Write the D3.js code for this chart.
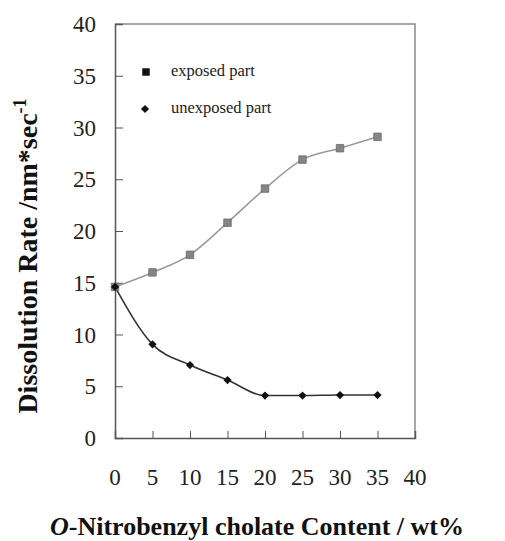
<!DOCTYPE html>
<html lang="en">
<head>
  <meta charset="UTF-8">
  <script src="https://d3js.org/d3.v7.min.js"></script>
  <title>Dissolution rate</title>
  <style>
    body { margin: 0; background: #fff; }
    text { font-family: "Liberation Serif", "Times New Roman", serif; }
  </style>
</head>
<body>
  <svg id="chart" width="505" height="541"></svg>
  <script>
    // data
    var contents = [0, 5, 10, 15, 20, 25, 30, 35];
    var exposedRate = [14.6, 16.0, 17.7, 20.8, 24.1, 26.9, 28.0, 29.1];
    var unexposedRate = [14.6, 9.05, 7.05, 5.6, 4.1, 4.1, 4.15, 4.15];
    var xTicks = [0, 5, 10, 15, 20, 25, 30, 35, 40];
    var yTicks = [0, 5, 10, 15, 20, 25, 30, 35, 40];
    var legendLabels = ["exposed part", "unexposed part"];

    var svg = d3.select("#chart");
    // plot box (window.top is reserved, so use other names)
    var plotL = 115, plotR = 415, plotT = 24, plotB = 438;

    var x = d3.scaleLinear().domain([0, 40]).range([plotL, plotR]);
    var y = d3.scaleLinear().domain([0, 40]).range([plotB, plotT]);

    // frame (top / right lighter)
    svg.append("path")
      .attr("d", "M" + plotL + "," + plotT + "H" + plotR + "V" + plotB)
      .attr("fill", "none")
      .attr("stroke", "#8a8a8a")
      .attr("stroke-width", 1.5);

    // y axis
    var yAxis = svg.append("g")
      .attr("transform", "translate(" + plotL + ",0)")
      .call(d3.axisRight(y).tickValues(yTicks).tickSize(8).tickFormat(""));
    yAxis.select(".domain").attr("stroke", "#555").attr("stroke-width", 1.5);
    yAxis.selectAll(".tick line").attr("stroke", "#555");

    svg.append("g").selectAll("text")
      .data(yTicks)
      .enter()
      .append("text")
        .attr("x", 96)
        .attr("y", function(d) { return y(d); })
        .attr("dy", "0.35em")
        .attr("text-anchor", "end")
        .attr("font-size", 23)
        .attr("fill", "#222")
        .text(function(d) { return d; });

    // x axis
    var xAxis = svg.append("g")
      .attr("transform", "translate(0," + plotB + ")")
      .call(d3.axisTop(x).tickValues(xTicks.slice(1, -1)).tickSize(7).tickFormat(""));
    xAxis.select(".domain").attr("stroke", "#555").attr("stroke-width", 1.5);
    xAxis.selectAll(".tick line").attr("stroke", "#555");

    svg.append("g").selectAll("text")
      .data(xTicks)
      .enter()
      .append("text")
        .attr("x", function(d) { return x(d); })
        .attr("y", 477)
        .attr("dy", "0.35em")
        .attr("text-anchor", "middle")
        .attr("font-size", 23)
        .attr("fill", "#222")
        .text(function(d) { return d; });

    // titles
    var xt = svg.append("text")
      .attr("x", 257)
      .attr("y", 535)
      .attr("text-anchor", "middle")
      .attr("font-size", 26)
      .attr("font-weight", "bold")
      .attr("fill", "#111");
    xt.append("tspan").attr("font-style", "italic").text("O");
    xt.append("tspan").text("-Nitrobenzyl cholate Content / wt%");

    var yt = svg.append("text")
      .attr("transform", "translate(37,256) rotate(-90)")
      .attr("text-anchor", "middle")
      .attr("font-size", 28)
      .attr("font-weight", "bold")
      .attr("fill", "#111");
    yt.append("tspan").text("Dissolution Rate /nm*sec");
    yt.append("tspan").attr("font-size", 18).attr("dy", -11).text("-1");

    // series
    var line = d3.line()
      .x(function(d, i) { return x(contents[i]); })
      .y(function(d) { return y(d); })
      .curve(d3.curveMonotoneX);

    svg.append("path")
      .datum(exposedRate)
      .attr("d", line)
      .attr("fill", "none")
      .attr("stroke", "#9a9a9a")
      .attr("stroke-width", 1.6);

    svg.append("path")
      .datum(unexposedRate)
      .attr("d", line)
      .attr("fill", "none")
      .attr("stroke", "#333")
      .attr("stroke-width", 1.6);

    var square = d3.symbol().type(d3.symbolSquare).size(56);
    // diamond = square turned 45 degrees
    var diamond = d3.symbol().type(d3.symbolSquare).size(34);

    svg.append("g").selectAll("path")
      .data(exposedRate)
      .enter()
      .append("path")
        .attr("d", square)
        .attr("transform", function(d, i) { return "translate(" + x(contents[i]) + "," + y(d) + ")"; })
        .attr("fill", "#858585")
        .attr("stroke", "#6a6a6a")
        .attr("stroke-width", 0.8);

    svg.append("g").selectAll("path")
      .data(unexposedRate)
      .enter()
      .append("path")
        .attr("d", diamond)
        .attr("transform", function(d, i) { return "translate(" + x(contents[i]) + "," + y(d) + ") rotate(45)"; })
        .attr("fill", "#111");

    // legend
    var legend = svg.append("g");
    legend.append("path")
      .attr("d", square)
      .attr("transform", "translate(146,72)")
      .attr("fill", "#111");
    legend.append("path")
      .attr("d", diamond)
      .attr("transform", "translate(145,109) rotate(45)")
      .attr("fill", "#111");
    legend.selectAll("text")
      .data(legendLabels)
      .enter()
      .append("text")
        .attr("x", 171)
        .attr("y", function(d, i) { return 76 + i * 37; })
        .attr("font-size", 16.5)
        .attr("fill", "#222")
        .text(function(d) { return d; });
  </script>
</body>
</html>
